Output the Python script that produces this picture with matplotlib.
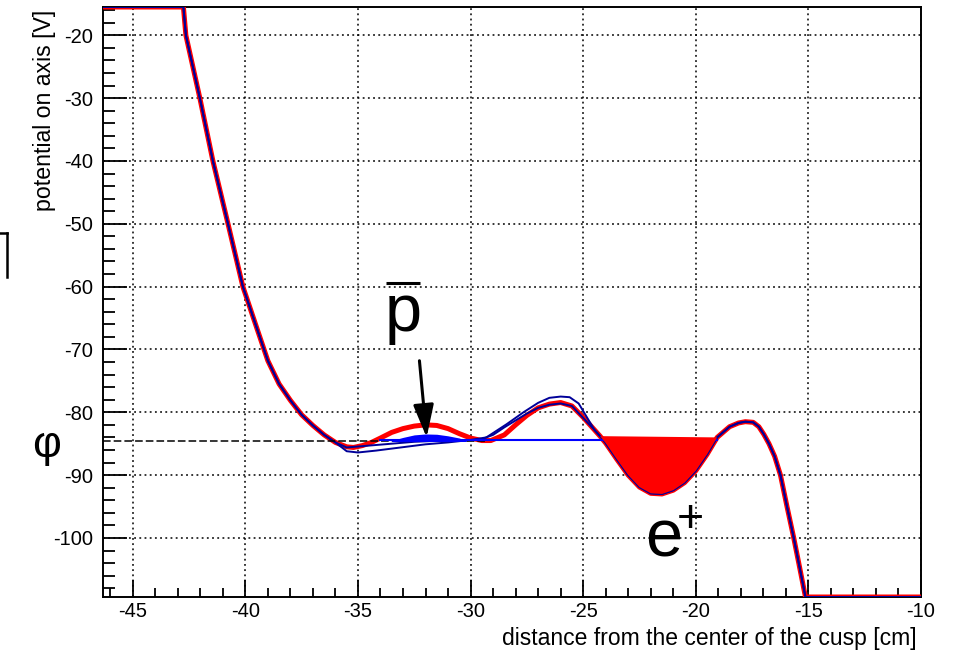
import numpy as np
import matplotlib
matplotlib.use("Agg")
from matplotlib import pyplot as plt
from matplotlib.ticker import MultipleLocator

plt.rcParams['font.family'] = ['Liberation Sans', 'DejaVu Sans']
plt.rcParams['axes.unicode_minus'] = False
plt.rcParams['mathtext.fontset'] = 'custom'
plt.rcParams['mathtext.rm'] = 'Liberation Sans'

# on-axis potential, nominal configuration [cm, V]
red_x = [-46.5, -42.75, -42.64, -42.02, -41.44, -40.77, -40.11, -39.5, -39.0, -38.5,
         -38.0, -37.5, -37.0, -36.5, -36.0, -35.5, -35.2, -34.8, -34.4, -34.0,
         -33.5, -33.0, -32.5, -32.0, -31.5, -31.0, -30.5, -30.0, -29.5, -29.1,
         -28.5, -28.0, -27.5, -27.0, -26.5, -26.0, -25.5, -25.0, -24.5, -24.25,
         -24.0, -23.5, -23.0, -22.5, -22.0, -21.5, -21.0, -20.5, -20.0, -19.5,
         -19.05, -18.5, -18.1, -17.8, -17.45, -17.2, -16.98, -16.75, -16.5, -16.24,
         -15.95, -15.65, -15.4, -15.13, -10.0]
red_y = [-15.5, -15.5, -20.0, -30.0, -40.0, -50.0, -60.0, -66.5, -71.8, -75.5,
         -78.1, -80.4, -82.1, -83.6, -84.8, -85.5, -85.6, -85.3, -84.8, -84.1,
         -83.2, -82.6, -82.2, -82.0, -82.1, -82.6, -83.4, -84.1, -84.5, -84.5,
         -83.6, -82.0, -80.5, -79.3, -78.7, -78.45, -79.0, -80.8, -82.8, -83.8,
         -84.9, -87.5, -90.0, -91.9, -92.9, -93.0, -92.4, -91.2, -89.3, -86.7,
         -84.0, -82.3, -81.7, -81.5, -81.6, -82.3, -83.5, -85.0, -87.0, -90.0,
         -95.0, -100.0, -104.5, -109.4, -109.4]

# the two other potentials only differ between the two wells
alt1_x = [-35.5, -34.5, -33.5, -32.5, -31.5, -30.5, -29.6, -29.0, -28.5, -28.0,
          -27.5, -27.0, -26.5, -26.0, -25.5]
alt1_y = [-85.6, -85.3, -85.0, -84.7, -84.55, -84.5, -84.4, -83.6, -82.4, -81.3,
          -80.2, -79.3, -78.8, -78.6, -79.0]
alt2_x = [-35.5, -35.0, -34.2, -33.1, -32.0, -31.0, -30.0, -29.3, -28.4, -27.65,
          -27.0, -26.5, -26.0, -25.6, -25.2]
alt2_y = [-86.2, -86.4, -86.1, -85.6, -85.1, -84.8, -84.4, -84.0, -81.9, -80.0,
          -78.5, -77.7, -77.5, -77.6, -78.6]

# antiproton cloud in the upstream well
pbar_x = [-33.5, -33.0, -32.5, -32.0, -31.5, -31.0, -30.5, -30.2]
pbar_top = [-84.5, -84.0, -83.6, -83.45, -83.5, -83.75, -84.1, -84.5]

phi_level = -84.65      # dashed reference level
blue_level = -84.4      # blue line through both wells
well_left, well_right = -24.25, -19.05   # positron filling edges

red_x = np.array(red_x)
red_y = np.array(red_y)


def splice(x, y, lo, hi):
    # nominal curve outside [lo, hi], modified segment inside
    left = red_x < lo
    right = red_x > hi
    xs = np.concatenate([red_x[left], x, red_x[right]])
    ys = np.concatenate([red_y[left], y, red_y[right]])
    return xs, ys


a1x, a1y = splice(alt1_x, alt1_y, alt1_x[0], -25.0)
a2x, a2y = splice(alt2_x, alt2_y, alt2_x[0], -24.8)

fig = plt.figure(figsize=(9.59, 6.52), dpi=100)
ax = fig.add_axes([103 / 959, 1 - 597 / 652, 818 / 959, 590 / 652])

ax.plot(red_x, red_y, color='red', lw=3.6, solid_joinstyle='round', zorder=3)
ax.plot(a1x, a1y, color='#000099', lw=1.4, zorder=4)
ax.plot(a2x, a2y, color='#000099', lw=1.4, zorder=4)

ax.plot([-46.32, -29.3], [phi_level, phi_level], color='black', lw=1.1,
        ls=(0, (5, 2)), zorder=5)
ax.plot([-34.0, well_right], [blue_level, blue_level], color='#0000ff', lw=1.5, zorder=5)

ax.fill_between(pbar_x, pbar_top, phi_level, color='#0000ff', lw=0, zorder=6)

well = (red_x >= well_left) & (red_x <= well_right)
ax.fill(red_x[well], red_y[well], color='red', lw=0, zorder=6)

# particle labels
ax.text(-32.99, -67.0, "p", fontsize=48, ha='center', va='baseline')
ax.plot([-33.75, -32.25], [-59.4, -59.4], color='black', lw=2.2,
        solid_capstyle='butt', clip_on=False)
ax.annotate("", xy=(-31.95, -84.0), xytext=(-32.27, -71.8),
            arrowprops=dict(arrowstyle='-|>,head_length=0.8,head_width=0.25',
                            color='black', lw=2.2, mutation_scale=25,
                            shrinkA=0, shrinkB=0), zorder=7)
ax.text(-22.25, -103.0, r"$\mathregular{e^{\!\!+}}$", fontsize=48,
        ha='left', va='baseline')

ax.set_xlim(-46.32, -10)
ax.set_ylim(-109.4, -15.5)
ax.xaxis.set_major_locator(MultipleLocator(5))
ax.xaxis.set_minor_locator(MultipleLocator(1))
ax.yaxis.set_major_locator(MultipleLocator(10))
ax.yaxis.set_minor_locator(MultipleLocator(2))
ax.tick_params(axis='both', which='both', direction='in', width=1.3,
               labelsize=14.5, colors='black')
ax.tick_params(axis='y', which='major', length=17, pad=7)
ax.tick_params(axis='y', which='minor', length=8.5)
ax.tick_params(axis='x', which='major', length=12.5, pad=3.5)
ax.tick_params(axis='x', which='minor', length=6.3)
ax.grid(True, which='major', color='black', lw=1.1, ls=(0, (1.2, 2.2)))
ax.set_axisbelow(False)
for s in ax.spines.values():
    s.set_linewidth(1.4)

fig.text(45 / 959, 1 - 10 / 652, "potential on axis [V]", rotation=90,
         ha='center', va='top', fontsize=16.7)
fig.text(917 / 959, 1 - 645 / 652, "distance from the center of the cusp [cm]",
         ha='right', va='baseline', fontsize=16.5)
fig.text(47 / 959, 1 - 445 / 652, "φ", fontsize=32, ha='center', va='center')

# clipped bracket at the left edge
fig.add_artist(plt.Line2D([7 / 959, 7 / 959], [1 - 233 / 652, 1 - 277 / 652],
                          color='black', lw=1.8, transform=fig.transFigure))
fig.add_artist(plt.Line2D([0, 7 / 959], [1 - 233 / 652, 1 - 233 / 652],
                          color='black', lw=1.8, transform=fig.transFigure))

fig.savefig("out.png", dpi=100)
